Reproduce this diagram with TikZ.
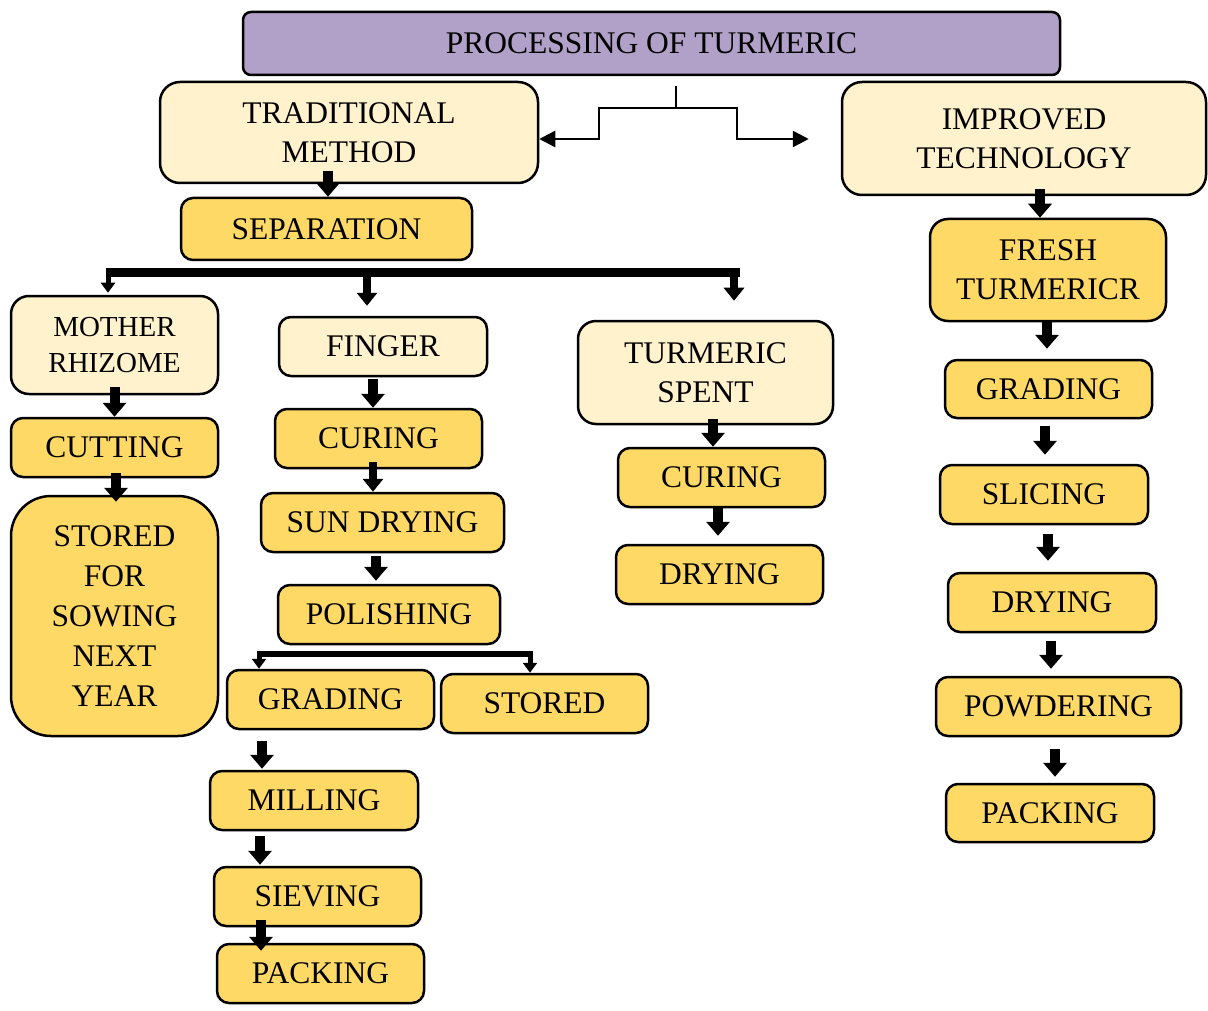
\documentclass[tikz,border=0pt]{standalone}
\usepackage{fontspec}
\setmainfont{Liberation Serif}
\usetikzlibrary{arrows.meta,calc}
\definecolor{titleP}{HTML}{B1A0C7}
\definecolor{lightY}{HTML}{FFF2CC}
\definecolor{goldY}{HTML}{FFD966}
\begin{document}
\begin{tikzpicture}[x=1pt,y=-1pt,
  box/.style={draw=black, line width=2.5pt, rounded corners=12pt, align=center, inner sep=0pt,
    font=\fontsize{31.5}{39}\selectfont},
  lt/.style={box, fill=lightY},
  gd/.style={box, fill=goldY},
  sz/.style 2 args={minimum width=#1, minimum height=#2},
  barr/.style={line width=10pt, -{Triangle[width=23pt,length=14pt]}},
  marr/.style={line width=8pt, -{Triangle[width=20pt,length=13pt]}},
  tarr/.style={line width=5pt, -{Triangle[width=14pt,length=10pt]}},
  conn/.style={line width=2.5pt},
  ctip/.style={{Triangle[width=16pt,length=16pt]}-{Triangle[width=16pt,length=16pt]}}
]
\useasboundingbox (0,0) rectangle (1208,1011);

% nodes
\node[box, fill=titleP, rounded corners=8pt, sz={817}{63}] (title) at (651.5,43.5) {PROCESSING OF TURMERIC};
\node[lt, rounded corners=20pt, sz={378}{101}] (trad) at (349,132.5) {TRADITIONAL\\METHOD};
\node[lt, rounded corners=20pt, sz={364}{113}] (impr) at (1024,138.5) {IMPROVED\\TECHNOLOGY};
\node[gd, sz={291}{62}] (sep) at (326.5,229) {SEPARATION};
\node[lt, rounded corners=18pt, sz={207}{98}, font=\fontsize{29}{36}\selectfont] (mother) at (114.5,345) {MOTHER\\RHIZOME};
\node[lt, sz={208}{59}] (finger) at (383,346.5) {FINGER};
\node[lt, rounded corners=18pt, sz={255}{103}] (spent) at (705.5,372.5) {TURMERIC\\SPENT};
\node[gd, sz={207}{59}] (cutting) at (114.5,447.5) {CUTTING};
\node[gd, rounded corners=40pt, sz={207}{240}, font=\fontsize{31.5}{40}\selectfont] (stored1) at (114.5,616) {STORED\\FOR\\SOWING\\NEXT\\YEAR};
\node[gd, sz={207}{59}] (curing1) at (378.5,438.5) {CURING};
\node[gd, sz={243}{59}] (sundry) at (382.5,522.5) {SUN DRYING};
\node[gd, sz={222}{59}] (polish) at (389,614.5) {POLISHING};
\node[gd, sz={207}{59}] (grading1) at (330.5,699.5) {GRADING};
\node[gd, sz={207}{59}] (stored2) at (544.5,703.5) {STORED};
\node[gd, sz={208}{59}] (milling) at (314,800.5) {MILLING};
\node[gd, sz={207}{59}] (sieving) at (317.5,896.5) {SIEVING};
\node[gd, sz={207}{59}] (packing1) at (320.5,973.5) {PACKING};
\node[gd, sz={207}{59}] (curing2) at (721.5,477.5) {CURING};
\node[gd, sz={207}{59}] (drying2) at (719.5,574.5) {DRYING};
\node[gd, rounded corners=18pt, sz={236}{102}] (fresh) at (1048,270) {FRESH\\TURMERICR};
\node[gd, sz={207}{58}] (grading2) at (1048.5,389) {GRADING};
\node[gd, sz={208}{59}] (slicing) at (1044,494.5) {SLICING};
\node[gd, sz={208}{59}] (drying3) at (1052,602.5) {DRYING};
\node[gd, sz={245}{59}] (powder) at (1058.5,706.5) {POWDERING};
\node[gd, sz={208}{58}] (packing2) at (1050,813) {PACKING};

% top split connector
\coordinate (stemTop) at ($(title.south)+(24.5,10)$);
\coordinate (jL) at (599,108);
\coordinate (jR) at (737,108);
\draw[conn] (stemTop) -- (stemTop |- jL);
\draw[conn, ctip] ($(trad.east)+(0,6.5)$) -| (jL) -- (jR) |- ($(impr.west)+(-32,0.5)$);

% separation bus
\coordinate (busL) at (108,273);
\coordinate (busR) at (736,273);
\draw[line width=9pt] ($(busL)+(-2.5,0)$) -- ($(busR)+(4,0)$);
\coordinate (mA) at ($(mother.north)+(-6.5,-2)$);
\coordinate (fA) at ($(finger.north)+(-16,-10)$);
\coordinate (sA) at ($(spent.north)+(28.5,-19)$);
\draw[tarr] (busL) -- (mA);
\draw[marr] (fA |- busL) -- (fA);
\draw[marr] (sA |- busL) -- (sA);

% polishing bus
\coordinate (pL) at ($(grading1.north)+(-71.5,-15)$);
\coordinate (pR) at ($(stored2.north)+(-14.5,-19)$);
\draw[line width=6pt] ($(pL)+(-2.5,0)$) -- ($(pR)+(3,0)$);
\draw[tarr] (pL) -- (grading1.north -| pL);
\draw[tarr] (pR) -- (stored2.north -| pR);

% block arrows
\draw[barr] ($(trad.south)+(-21,-13)$) -- ($(sep.north)+(1.5,0)$);
\draw[barr] ($(impr.south)+(16,-7)$) -- ($(fresh.north)+(-8,0)$);
\draw[barr] ($(mother.south)+(0,-8)$) -- (cutting.north);
\draw[barr] ($(cutting.south)+(1.5,-5)$) -- ($(stored1.north)+(1.5,7)$);
\draw[barr] ($(finger.south)+(-10,2)$) -- ($(curing1.north)+(-5.5,0)$);
\draw[marr] ($(curing1.south)+(-5.5,-7)$) -- ($(sundry.north)+(-9.5,0)$);
\draw[barr] ($(sundry.south)+(-6.5,3)$) -- ($(polish.north)+(-13,-3)$);
\draw[barr] ($(grading1.south)+(-68.5,11)$) -- ($(milling.north)+(-52,-1)$);
\draw[barr] ($(milling.south)+(-54,5)$) -- ($(sieving.north)+(-57.5,-1)$);
\draw[barr] ($(sieving.south)+(-56.5,-7)$) -- ($(packing1.north)+(-59.5,8)$);
\draw[barr] ($(spent.south)+(7.5,-6)$) -- ($(curing2.north)+(-8.5,0)$);
\draw[barr] ($(curing2.south)+(-3.5,0)$) -- ($(drying2.north)+(-1.5,-8)$);
\draw[barr] ($(fresh.south)+(-1,0)$) -- ($(grading2.north)+(-1.5,-10)$);
\draw[barr] ($(grading2.south)+(-3.5,7)$) -- ($(slicing.north)+(1,-9)$);
\draw[barr] ($(slicing.south)+(4,9)$) -- ($(drying3.north)+(-4,-11)$);
\draw[barr] ($(drying3.south)+(-1,8)$) -- ($(powder.north)+(-7.5,-7)$);
\draw[barr] ($(powder.south)+(-3.5,12)$) -- ($(packing2.north)+(5,-6)$);
\end{tikzpicture}
\end{document}
